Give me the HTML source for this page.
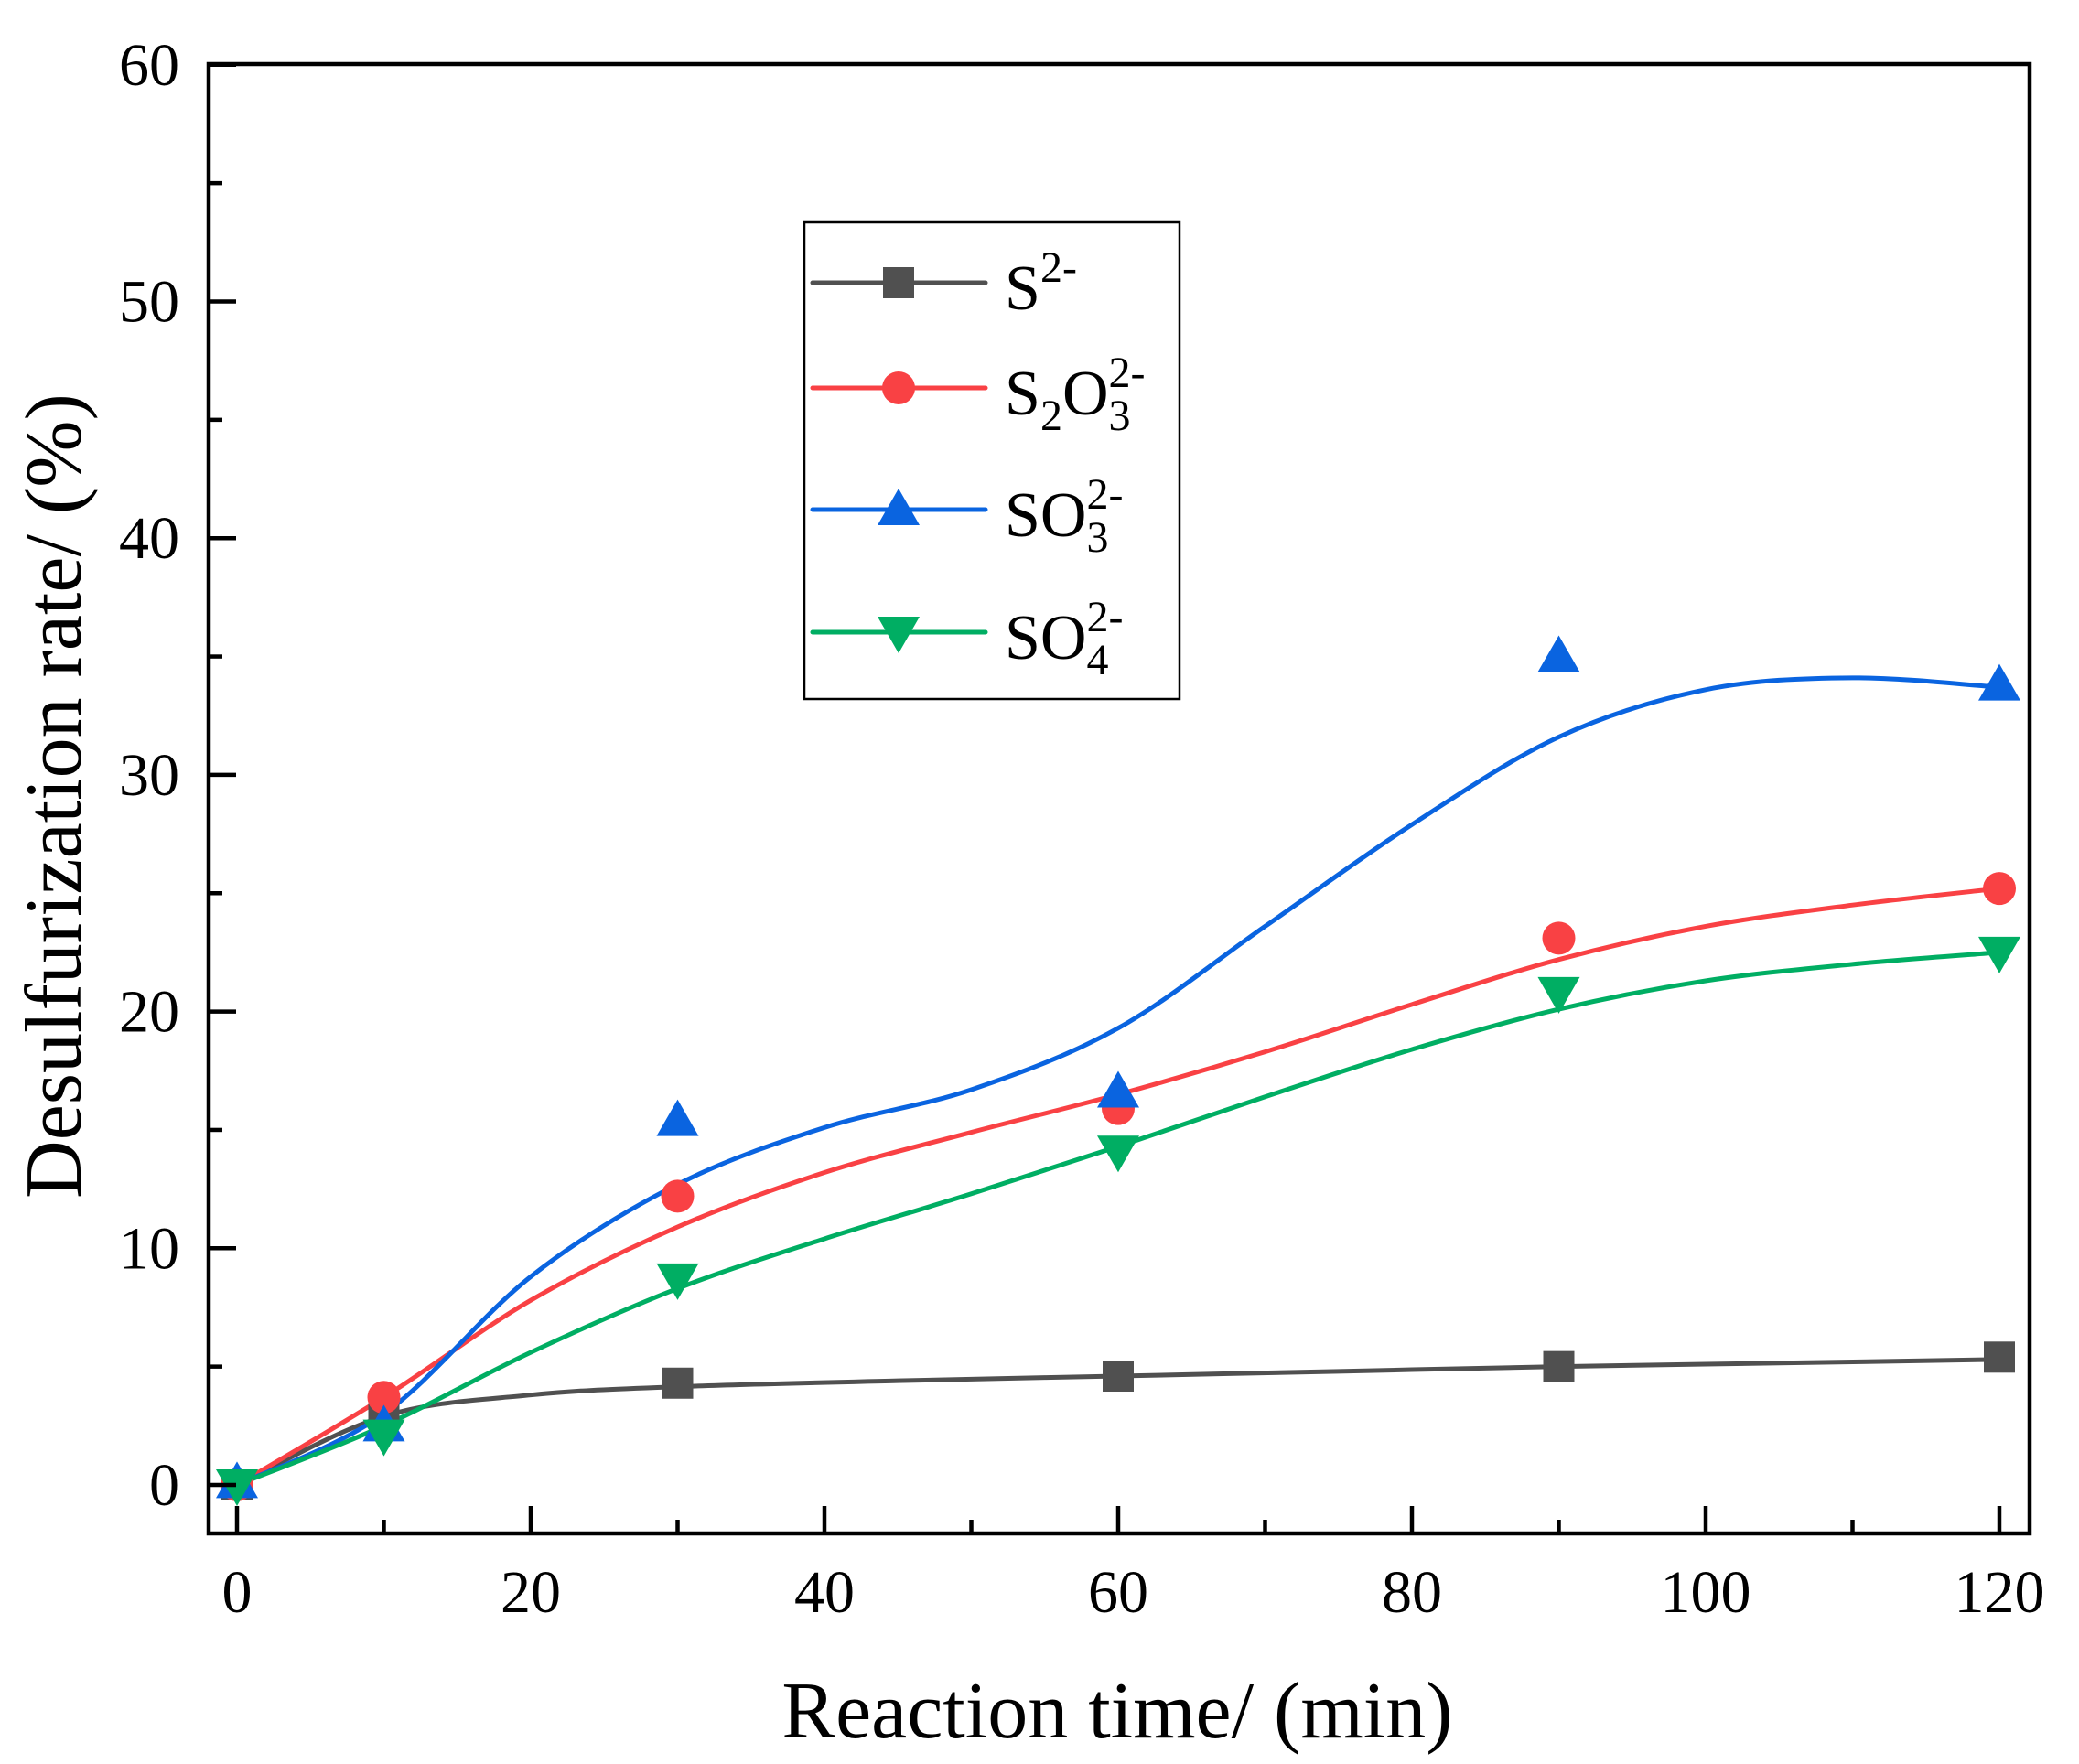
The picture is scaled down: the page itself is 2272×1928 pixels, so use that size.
<!DOCTYPE html>
<html><head><meta charset="utf-8"><style>
html,body{margin:0;padding:0;background:#fff;}
svg{display:block;}
text{font-family:"Liberation Serif",serif;fill:#000;}
</style></head><body>
<svg id="s" width="2272" height="1928" viewBox="0 0 2272 1928" xmlns="http://www.w3.org/2000/svg">
<rect x="0" y="0" width="2272" height="1928" fill="#fff"/>
<g id="curves"></g>
<g id="marks"></g>
<rect x="228" y="70" width="1990" height="1606" fill="none" stroke="#000" stroke-width="4.5"/>
<g id="ticks" stroke="#000" stroke-width="4.5"></g>
<g id="labels" font-size="66"></g>
<text x="1221" y="1899" font-size="88" text-anchor="middle">Reaction time/ (min)</text>
<text transform="translate(88,870) rotate(-90)" font-size="88" text-anchor="middle">Desulfurization rate/ (%)</text>
<rect x="879" y="243" width="410" height="521" fill="#fff" stroke="#000" stroke-width="2.5"/>
<g id="legend"></g>
<g font-size="70">
<text x="1098" y="338">S<tspan font-size="48" dy="-30">2-</tspan></text>
<text x="1098" y="453">S<tspan font-size="48" dy="17">2</tspan><tspan dy="-17">O</tspan><tspan font-size="48" dy="17">3</tspan><tspan font-size="48" dx="-24" dy="-47">2-</tspan></text>
<text x="1098" y="586">SO<tspan font-size="48" dy="17">3</tspan><tspan font-size="48" dx="-24" dy="-47">2-</tspan></text>
<text x="1098" y="720">SO<tspan font-size="48" dy="17">4</tspan><tspan font-size="48" dx="-24" dy="-47">2-</tspan></text>
</g>
</svg>
<script>
var NS="http://www.w3.org/2000/svg";
function X(t){return 259+t*16.05;}
function Y(v){return 1623-v*25.87;}
function el(tag,attrs,parent){var e=document.createElementNS(NS,tag);for(var k in attrs)e.setAttribute(k,attrs[k]);document.getElementById(parent).appendChild(e);return e;}
var series=[
 {c:"#505050",m:"sq",pts:[[0,0],[10,3.3],[30,4.3],[60,4.6],[90,5.0],[120,5.4]],
  cur:[[0,0],[10,2.9],[20,3.8],[30,4.15],[45,4.4],[60,4.6],[75,4.8],[90,5.0],[105,5.15],[120,5.3]]},
 {c:"#f94144",m:"ci",pts:[[0,0],[10,3.7],[30,12.2],[60,15.9],[90,23.1],[120,25.2]],
  cur:[[0,0],[10,3.7],[20,7.8],[30,10.9],[40,13.2],[50,14.9],[60,16.5],[70,18.3],[80,20.3],[90,22.2],[100,23.6],[110,24.5],[120,25.2]]},
 {c:"#0a64e0",m:"up",pts:[[0,0.1],[10,2.5],[30,15.4],[60,16.6],[90,35],[120,33.8]],
  cur:[[0,0],[10,3],[20,8.8],[30,12.7],[40,15.1],[50,16.7],[60,19.3],[70,23.6],[80,27.9],[90,31.6],[100,33.6],[110,34.1],[120,33.7]]},
 {c:"#00ae63",m:"dn",pts:[[0,0],[10,2.1],[30,8.7],[60,14.1],[90,20.8],[120,22.5]],
  cur:[[0,0],[10,2.5],[20,5.6],[30,8.3],[40,10.4],[50,12.3],[60,14.3],[70,16.4],[80,18.4],[90,20.1],[100,21.3],[110,22],[120,22.5]]}
];
function cr(p){var P=p.map(function(a){return[X(a[0]),Y(a[1])];});var d="M"+P[0][0]+","+P[0][1];
 for(var i=0;i<P.length-1;i++){var p0=P[i-1]||P[i],p1=P[i],p2=P[i+1],p3=P[i+2]||P[i+1];
  d+=" C"+(p1[0]+(p2[0]-p0[0])/6)+","+(p1[1]+(p2[1]-p0[1])/6)+" "+(p2[0]-(p3[0]-p1[0])/6)+","+(p2[1]-(p3[1]-p1[1])/6)+" "+p2[0]+","+p2[1];}
 return d;}
function marker(m,x,y,c,g){
 if(m=="sq")el("rect",{x:x-17,y:y-17,width:34,height:34,fill:c},g);
 else if(m=="ci")el("circle",{cx:x,cy:y,r:18,fill:c},g);
 else if(m=="up")el("polygon",{points:(x-23)+","+(y+17)+" "+(x+23)+","+(y+17)+" "+x+","+(y-23),fill:c},g);
 else el("polygon",{points:(x-23)+","+(y-17)+" "+(x+23)+","+(y-17)+" "+x+","+(y+23),fill:c},g);}
series.forEach(function(s){el("path",{d:cr(s.cur),fill:"none",stroke:s.c,"stroke-width":5},"curves");
 s.pts.forEach(function(p){marker(s.m,X(p[0]),Y(p[1]),s.c,"marks");});});
var ly=[309,424,557,691];
series.forEach(function(s,i){el("line",{x1:888,y1:ly[i],x2:1077,y2:ly[i],stroke:s.c,"stroke-width":5,"stroke-linecap":"round"},"legend");marker(s.m,982,ly[i],s.c,"legend");});
for(var t=0;t<=120;t+=10){var maj=t%20==0;el("line",{x1:X(t),y1:1676,x2:X(t),y2:1676-(maj?30:15)},"ticks");
 if(maj){var tx=el("text",{x:X(t),y:1762,"text-anchor":"middle"},"labels");tx.textContent=t;}}
for(var v=0;v<=60;v+=5){var maj=v%10==0;el("line",{x1:228,y1:Y(v),x2:228+(maj?30:15),y2:Y(v)},"ticks");
 if(maj){var ty=el("text",{x:196,y:Y(v)+22,"text-anchor":"end"},"labels");ty.textContent=v;}}
</script>
</body></html>
